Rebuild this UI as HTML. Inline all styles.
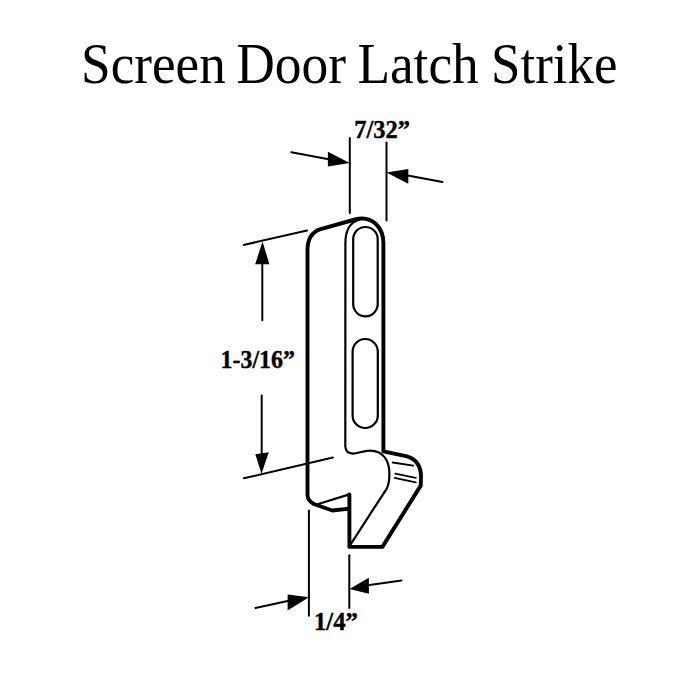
<!DOCTYPE html>
<html><head><meta charset="utf-8">
<style>
html,body{margin:0;padding:0;background:#fff;width:700px;height:700px;overflow:hidden}
svg{position:absolute;left:0;top:0}
</style></head><body>
<svg width="700" height="700" viewBox="0 0 700 700">
<rect width="700" height="700" fill="#fff"/>
<g font-family="Liberation Serif">
<g font-size="56" fill="#000">
<text transform="translate(81.1,82.5) scale(0.95,1)">Screen</text>
<text transform="translate(236.2,82.5) scale(0.955,1)">Door</text>
<text transform="translate(357.4,82.5) scale(0.952,1)">Latch</text>
<text transform="translate(491.1,82.5) scale(0.944,1)">Strike</text>
</g>
<text x="354.3" y="138" font-size="26" font-weight="bold" textLength="55.8" lengthAdjust="spacingAndGlyphs" stroke="#000" stroke-width="0.4">7/32”</text>
<text x="220.5" y="367.5" font-size="26" font-weight="bold" textLength="74.5" lengthAdjust="spacingAndGlyphs" stroke="#000" stroke-width="0.4">1-3/16”</text>
<text x="314" y="629.5" font-size="26" font-weight="bold" textLength="44" lengthAdjust="spacingAndGlyphs" stroke="#000" stroke-width="0.4">1/4”</text>
</g>
<g stroke="#000" fill="none" stroke-linecap="round" stroke-linejoin="round">
<!-- dimension lines -->
<g stroke-width="2">
<line x1="349.8" y1="138" x2="349.8" y2="213"/>
<line x1="386.5" y1="142.5" x2="386.5" y2="220.5"/>
<line x1="291.3" y1="152.3" x2="330" y2="159.5"/>
<line x1="442.6" y1="182" x2="405" y2="175"/>
<line x1="243.7" y1="244.9" x2="307.1" y2="230.6"/>
<line x1="243.9" y1="478.3" x2="332.9" y2="457.5"/>
<line x1="262.3" y1="262" x2="262.3" y2="320.3"/>
<line x1="261.7" y1="395.4" x2="261.7" y2="455"/>
<line x1="308.9" y1="510.5" x2="308.9" y2="615.7"/>
<line x1="349.3" y1="555.3" x2="349.3" y2="608"/>
<line x1="255.4" y1="608" x2="290" y2="600.5"/>
<line x1="401.5" y1="580.5" x2="366" y2="585.5"/>
</g>
</g>
<g fill="#000">
<polygon points="349.8,163.1 327.9,151.7 327.9,166.6"/>
<polygon points="386.5,172.6 408.3,169.1 408.3,183.7"/>
<polygon points="262.5,241.4 255.2,264.2 269.4,264.2"/>
<polygon points="261.5,473.8 255.3,454.3 268.8,452.2"/>
<polygon points="309,597.2 287.6,594.6 287.6,610.5"/>
<polygon points="349.4,588.9 368.9,577.8 368.9,593.8"/>
</g>
<g stroke="#000" fill="none" stroke-linecap="round" stroke-linejoin="round">
<!-- outer thick outline -->
<path stroke-width="3.9" d="M307.5,495 L307.5,250 C307.5,240 311.5,232 320.7,229.1 L355,219.5 C362,217.6 370,218.5 376,224 C381,229 383.4,235 383.4,243 L383.4,451.4 L406,456.2 C415,458.5 421,465 421,477 L420.7,485.6 L382.4,546.9 L349.4,546.9 L349.4,494.5 M349.4,508.6 L332.4,510.5 L313.8,504 C309.5,501.5 307.5,499 307.5,495"/>
<!-- front face thin line -->
<path stroke-width="2.2" d="M359,219.8 C350,222.5 345.4,230 345.4,243 L345.3,446.3 C345.5,451.5 348.5,453.6 353,453.6 C358,453.6 363,450.6 370,450.6 C383,450.8 389.4,460 389.4,474 C389.4,480 388.8,484.5 386.9,488.3 L350.6,544.3"/>
<!-- notch top -->
<path stroke-width="2.2" d="M318.3,504 L349.4,494.4"/>
<!-- slots -->
<rect x="353.2" y="227" width="24.5" height="89.3" rx="12.25" stroke-width="2.2"/>
<rect x="352.6" y="339" width="25.2" height="89" rx="12.6" stroke-width="2.2"/>
<!-- ribs -->
<g stroke-width="1.8">
<line x1="392.7" y1="462.5" x2="413.3" y2="465.7"/>
<line x1="395.3" y1="473.7" x2="415.8" y2="477.9"/>
<line x1="394.6" y1="477.9" x2="415.8" y2="482.4"/>
</g>
</g>
</svg>
</body></html>
